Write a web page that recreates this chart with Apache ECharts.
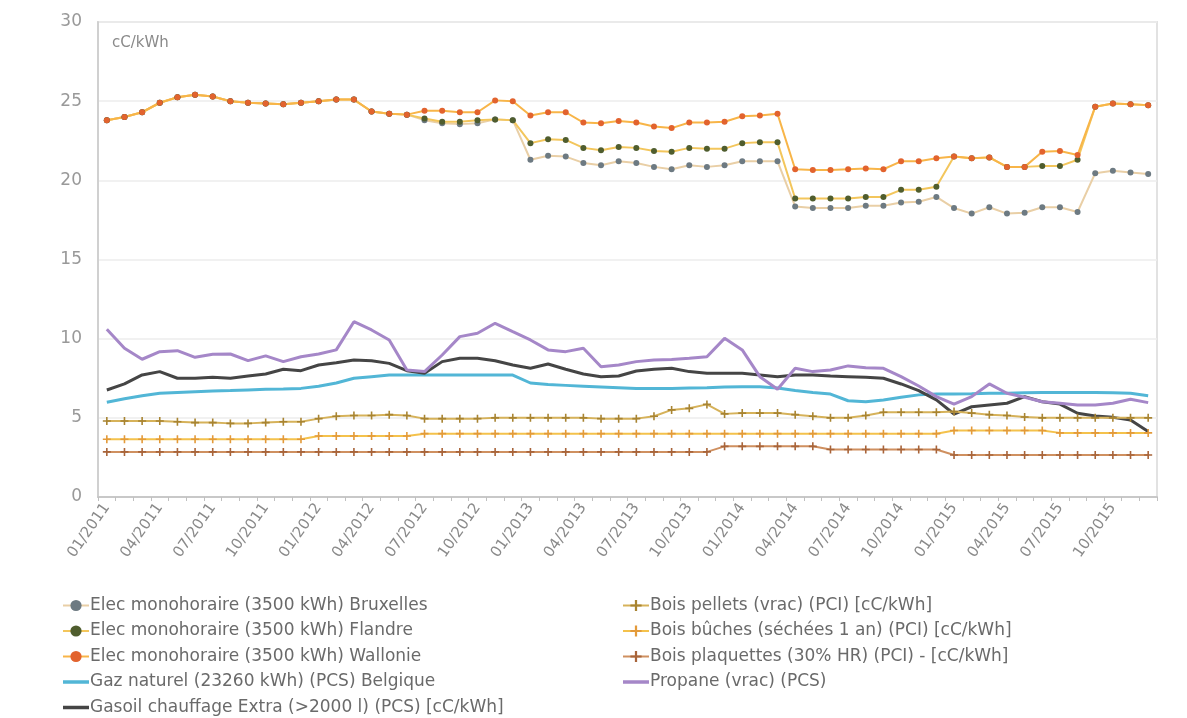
<!DOCTYPE html>
<html><head><meta charset="utf-8">
<script src="https://cdn.jsdelivr.net/npm/echarts@6/dist/echarts.min.js"></script>
<style>html,body{margin:0;padding:0;background:#fff}#c{width:1187px;height:718px}</style>
</head><body><div id="c"></div>
<script>
const months = [];
for (let y = 2011; y <= 2015; y++) for (let m = 1; m <= 12; m++) months.push((m < 10 ? '0' + m : '' + m) + '/' + y);

const yTicks = [0, 5, 10, 15, 20, 25, 30];
const unitLabel = 'cC/kWh';

const elecBruxelles = [23.8,24.0,24.3,24.9,25.25,25.4,25.3,25.0,24.9,24.85,24.8,24.9,25.0,25.1,25.1,24.35,24.2,24.15,
  23.8,23.6,23.55,23.6,23.85,23.8,21.3,21.55,21.5,21.1,20.95,21.2,21.1,20.85,20.7,20.95,20.85,20.95,21.2,21.2,21.2,
  18.35,18.25,18.25,18.25,18.4,18.4,18.6,18.65,18.95,18.25,17.9,18.3,17.9,17.95,18.3,18.3,18.0,20.45,20.6,20.5,20.4];
const elecFlandre = [23.8,24.0,24.3,24.9,25.25,25.4,25.3,25.0,24.9,24.85,24.8,24.9,25.0,25.1,25.1,24.35,24.2,24.15,
  23.9,23.7,23.7,23.8,23.85,23.8,22.35,22.6,22.55,22.05,21.9,22.1,22.05,21.85,21.8,22.05,22.0,22.0,22.35,22.4,22.4,
  18.85,18.85,18.85,18.85,18.95,18.95,19.4,19.4,19.6,21.5,21.4,21.45,20.85,20.85,20.9,20.9,21.3,24.65,24.85,24.8,24.75];
const elecWallonie = [23.8,24.0,24.3,24.9,25.25,25.4,25.3,25.0,24.9,24.85,24.8,24.9,25.0,25.1,25.1,24.35,24.2,24.15,
  24.4,24.4,24.3,24.3,25.05,25.0,24.1,24.3,24.3,23.65,23.6,23.75,23.65,23.4,23.3,23.65,23.65,23.7,24.05,24.1,24.2,
  20.7,20.65,20.65,20.7,20.75,20.7,21.2,21.2,21.4,21.5,21.4,21.45,20.85,20.85,21.8,21.85,21.6,24.65,24.85,24.8,24.75];
const gazNaturel = [5.98,6.2,6.4,6.55,6.6,6.65,6.7,6.72,6.76,6.8,6.82,6.86,7.0,7.2,7.5,7.6,7.7,7.7,7.7,7.7,
  7.7,7.7,7.7,7.7,7.2,7.1,7.05,7.0,6.95,6.9,6.85,6.85,6.85,6.88,6.9,6.95,6.97,6.97,6.88,6.72,
  6.6,6.5,6.08,6.02,6.13,6.3,6.45,6.5,6.5,6.52,6.55,6.55,6.58,6.6,6.6,6.6,6.6,6.58,6.55,6.4];
const gasoil = [6.76,7.14,7.71,7.92,7.5,7.5,7.56,7.5,7.64,7.77,8.07,7.98,8.34,8.48,8.65,8.61,8.44,7.98,7.81,8.55,
  8.76,8.76,8.61,8.34,8.13,8.4,8.07,7.77,7.6,7.64,7.96,8.07,8.13,7.92,7.81,7.81,7.81,7.71,7.6,7.71,
  7.71,7.64,7.6,7.56,7.5,7.14,6.72,6.13,5.24,5.7,5.81,5.92,6.34,6.02,5.87,5.29,5.12,5.03,4.86,4.13];
const boisPellets = [4.8,4.8,4.8,4.8,4.75,4.7,4.7,4.65,4.65,4.7,4.75,4.75,4.95,5.1,5.15,5.15,5.2,5.15,4.95,4.95,
  4.95,4.95,5.0,5.0,5.0,5.0,5.0,5.0,4.95,4.95,4.95,5.1,5.5,5.6,5.85,5.25,5.3,5.3,5.3,5.2,
  5.1,5.0,5.0,5.15,5.35,5.35,5.35,5.35,5.4,5.3,5.2,5.15,5.05,5.0,5.0,5.0,5.0,5.0,5.0,5.0];
const boisBuches = [3.65,3.65,3.65,3.65,3.65,3.65,3.65,3.65,3.65,3.65,3.65,3.65,3.85,3.85,3.85,3.85,3.85,3.85,4.0,4.0,
  4.0,4.0,4.0,4.0,4.0,4.0,4.0,4.0,4.0,4.0,4.0,4.0,4.0,4.0,4.0,4.0,4.0,4.0,4.0,4.0,
  4.0,4.0,4.0,4.0,4.0,4.0,4.0,4.0,4.2,4.2,4.2,4.2,4.2,4.2,4.05,4.05,4.05,4.05,4.05,4.05];
const boisPlaquettes = [2.85,2.85,2.85,2.85,2.85,2.85,2.85,2.85,2.85,2.85,2.85,2.85,2.85,2.85,2.85,2.85,2.85,2.85,2.85,2.85,
  2.85,2.85,2.85,2.85,2.85,2.85,2.85,2.85,2.85,2.85,2.85,2.85,2.85,2.85,2.85,3.2,3.2,3.2,3.2,3.2,
  3.2,3.0,3.0,3.0,3.0,3.0,3.0,3.0,2.65,2.65,2.65,2.65,2.65,2.65,2.65,2.65,2.65,2.65,2.65,2.65];
const propane = [10.59,9.39,8.7,9.18,9.24,8.82,9.01,9.03,8.61,8.91,8.55,8.86,9.03,9.29,11.07,10.55,9.92,8.02,7.92,8.97,
  10.13,10.34,10.97,10.44,9.92,9.29,9.18,9.39,8.23,8.34,8.55,8.65,8.68,8.76,8.86,10.02,9.29,7.6,6.8,8.13,
  7.92,8.02,8.28,8.17,8.13,7.6,7.01,6.34,5.87,6.34,7.14,6.55,6.3,6.02,5.92,5.81,5.81,5.92,6.17,5.96];

const names = {
  bx: 'Elec monohoraire (3500 kWh) Bruxelles',
  fl: 'Elec monohoraire (3500 kWh) Flandre',
  wa: 'Elec monohoraire (3500 kWh) Wallonie',
  gz: 'Gaz naturel (23260 kWh) (PCS) Belgique',
  go: 'Gasoil chauffage Extra (>2000 l) (PCS) [cC/kWh]',
  pe: 'Bois pellets (vrac) (PCI) [cC/kWh]',
  bu: 'Bois bûches (séchées 1 an) (PCI) [cC/kWh]',
  pl: 'Bois plaquettes (30% HR) (PCI) - [cC/kWh]',
  pr: 'Propane (vrac) (PCS)'
};

const plus = 'path://M4,0H6V4H10V6H6V10H4V6H0V4H4Z';
const barIcon = 'path://M0,0L0.01,0M0,5.3H26V8.7H0ZM0,14L0.01,14';
function markLine(name, data, lineColor, markColor, sym, size) {
  return { name, type: 'line', data, symbol: sym, symbolSize: size, showSymbol: true,
    lineStyle: { color: lineColor, width: 2 }, itemStyle: { color: markColor },
    emphasis: { disabled: true }, animation: false };
}
function plainLine(name, data, color) {
  return { name, type: 'line', data, showSymbol: false, symbol: 'none',
    lineStyle: { color, width: 3 }, itemStyle: { color }, emphasis: { disabled: true }, animation: false };
}

const chart = echarts.init(document.getElementById('c'));
const font = 'DejaVu Sans';
const legendText = { color: '#6a6a6a', fontSize: 17, fontFamily: font, padding: [0, 0, 0, -4] };
chart.setOption({
  backgroundColor: '#fff',
  grid: { left: 98, right: 30, top: 22, bottom: 221, show: true, borderColor: '#e2e2e2', borderWidth: 2 },
  xAxis: {
    type: 'category', data: months, boundaryGap: true,
    axisLine: { lineStyle: { color: '#c8c8c8', width: 2 } },
    axisTick: { show: true, interval: 0, length: 4, lineStyle: { color: '#c0c0c0' } },
    axisLabel: { interval: 2, rotate: 55, color: '#8a8a8a', fontSize: 15, fontFamily: font, margin: 8 }
  },
  yAxis: {
    type: 'value', min: yTicks[0], max: yTicks[yTicks.length - 1], interval: 5,
    axisLine: { show: true, lineStyle: { color: '#d0d0d0', width: 2 } },
    axisTick: { show: false },
    splitLine: { lineStyle: { color: '#ececec', width: 1.5 } },
    axisLabel: { color: '#999', fontSize: 17, fontFamily: font, margin: 16 }
  },
  legend: [
    { data: [names.bx, names.fl, names.wa, { name: names.gz, icon: barIcon }, { name: names.go, icon: barIcon }],
      orient: 'vertical', left: 62, top: 597, height: 160,
      padding: 0, itemGap: 8.5, itemWidth: 26, itemHeight: 14, selectedMode: false, textStyle: legendText },
    { data: [names.pe, names.bu, names.pl, { name: names.pr, icon: barIcon }],
      orient: 'vertical', left: 622, top: 597, height: 160,
      padding: 0, itemGap: 8.5, itemWidth: 26, itemHeight: 14, selectedMode: false, textStyle: legendText }
  ],
  graphic: [
    { type: 'text', left: 112, top: 36, style: { text: unitLabel, fill: '#8a8a8a', fontSize: 15, fontFamily: font } }
  ],
  series: [
    plainLine(names.gz, gazNaturel, '#52b6d6'),
    plainLine(names.go, gasoil, '#454545'),
    markLine(names.pe, boisPellets, '#d6b25a', '#a88432', plus, 8),
    markLine(names.bu, boisBuches, '#f4c24c', '#e39a3a', plus, 8),
    markLine(names.pl, boisPlaquettes, '#cf9060', '#a8643a', plus, 8),
    plainLine(names.pr, propane, '#a587c8'),
    markLine(names.bx, elecBruxelles, '#e9cfa6', '#6d7a82', 'circle', 6),
    markLine(names.fl, elecFlandre, '#f3c65c', '#4f5d2e', 'circle', 6),
    markLine(names.wa, elecWallonie, '#f8b548', '#e2632e', 'circle', 6)
  ]
});
</script></body></html>
